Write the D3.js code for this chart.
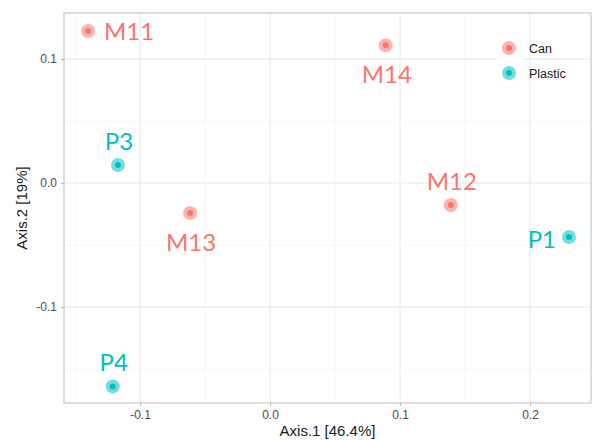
<!DOCTYPE html>
<html lang="en">
  <head>
    <meta charset="utf-8">
    <title>PCoA</title>
    <style>
      body { margin: 0; background: #fff; }
      svg { display: block; }
    </style>
  </head>
  <body>
    <div id="chart"></div>
  </body>
  <script src="https://cdnjs.cloudflare.com/ajax/libs/d3/7.8.5/d3.min.js"></script>
  <script type="text/javascript">

    // sample scores on the first two axes
    const samples = ['M11', 'M14', 'P3', 'M13', 'M12', 'P1', 'P4']
    const groups  = ['Can', 'Can', 'Plastic', 'Can', 'Can', 'Plastic', 'Plastic']
    const axis1   = [-0.140, 0.089, -0.117, -0.0615, 0.139, 0.230, -0.121]
    const axis2   = [0.1226, 0.111, 0.0145, -0.0242, -0.0177, -0.0435, -0.164]
    // where each label sits relative to its point
    const labelSide = ['right', 'below', 'above', 'below', 'above', 'left', 'above']

    const legendGroups = ['Can', 'Plastic']
    const groupColors = ['#F8766D', '#00BFC4']
    const xTicks = [-0.1, 0.0, 0.1, 0.2]
    const yTicks = [-0.1, 0.0, 0.1]

    const width = 592, height = 440
    const margin = { top: 13, right: 1, bottom: 37, left: 64 }
    const iw = width - margin.left - margin.right
    const ih = height - margin.top - margin.bottom

    const x = d3.scaleLinear().domain([-0.1585, 0.2469]).range([0, iw])
    const y = d3.scaleLinear().domain([-0.1774, 0.1371]).range([ih, 0])
    const color = d3.scaleOrdinal().domain(legendGroups).range(groupColors)

    const data = samples.map((s, i) => ({ name: s, group: groups[i], x: axis1[i], y: axis2[i], side: labelSide[i] }))

    const svg = d3.select('#chart').append('svg')
      .attr('width', width)
      .attr('height', height)

    const g = svg.append('g').attr('transform', `translate(${margin.left},${margin.top})`)

    // minor grid
    const minorX = d3.range(-0.15, 0.25, 0.1)
    const minorY = d3.range(-0.15, 0.15, 0.1)
    g.selectAll('.minor-x').data(minorX).enter().append('line')
      .attr('x1', d => x(d)).attr('x2', d => x(d)).attr('y1', 0).attr('y2', ih)
      .attr('stroke', '#f2f2f2').attr('stroke-width', 0.6)
    g.selectAll('.minor-y').data(minorY).enter().append('line')
      .attr('y1', d => y(d)).attr('y2', d => y(d)).attr('x1', 0).attr('x2', iw)
      .attr('stroke', '#f2f2f2').attr('stroke-width', 0.6)

    // major grid
    g.selectAll('.major-x').data(xTicks).enter().append('line')
      .attr('x1', d => x(d)).attr('x2', d => x(d)).attr('y1', 0).attr('y2', ih)
      .attr('stroke', '#e6e6e6').attr('stroke-width', 1)
    g.selectAll('.major-y').data(yTicks).enter().append('line')
      .attr('y1', d => y(d)).attr('y2', d => y(d)).attr('x1', 0).attr('x2', iw)
      .attr('stroke', '#e6e6e6').attr('stroke-width', 1)

    // axes
    const fmt = d => d3.format('.1f')(d).replace('−', '-')
    const xAxis = g.append('g').attr('transform', `translate(0,${ih})`)
      .call(d3.axisBottom(x).tickValues(xTicks).tickFormat(fmt).tickSize(3).tickPadding(4))
    const yAxis = g.append('g')
      .call(d3.axisLeft(y).tickValues(yTicks).tickFormat(fmt).tickSize(3).tickPadding(4))
    for (const ax of [xAxis, yAxis]) {
      ax.select('.domain').remove()
      ax.selectAll('line').attr('stroke', '#b3b3b3')
      ax.selectAll('text')
        .attr('fill', '#4d4d4d')
        .style('font-family', '"Liberation Sans", Arial, sans-serif')
        .style('font-size', '12px')
    }

    // panel border
    g.append('rect')
      .attr('width', iw).attr('height', ih)
      .attr('fill', 'none').attr('stroke', '#c8c8c8').attr('stroke-width', 1.2)

    // points
    const pts = g.selectAll('.pt').data(data).enter().append('g')
      .attr('transform', d => `translate(${x(d.x)},${y(d.y)})`)
    pts.append('circle').attr('r', 7).attr('fill', d => color(d.group)).attr('opacity', 0.55)
    pts.append('circle').attr('r', 3).attr('fill', d => color(d.group))

    // labels
    const off = {
      right: { dx: 16, dy: 9, anchor: 'start' },
      left: { dx: -13, dy: 11, anchor: 'end' },
      above: { dx: 1, dy: -15, anchor: 'middle' },
      below: { dx: 1, dy: 38, anchor: 'middle' }
    }
    g.selectAll('.lab').data(data).enter().append('text')
      .attr('x', d => x(d.x) + off[d.side].dx)
      .attr('y', d => y(d.y) + off[d.side].dy)
      .attr('text-anchor', d => off[d.side].anchor)
      .attr('fill', d => color(d.group))
      .style('font-family', 'Lato, "Open Sans", sans-serif')
      .style('font-size', '24px')
      .text(d => d.name)

    // legend
    const legend = svg.append('g').attr('transform', 'translate(497,35)')
    legend.append('rect').attr('width', 25).attr('height', 51).attr('fill', '#fff')
    const items = legend.selectAll('.item').data(legendGroups).enter().append('g')
      .attr('transform', (d, i) => `translate(12,${13 + i * 25})`)
    items.append('circle').attr('r', 7).attr('fill', d => color(d)).attr('opacity', 0.55)
    items.append('circle').attr('r', 3).attr('fill', d => color(d))
    items.append('text')
      .attr('x', 20).attr('y', 4.5)
      .style('font-family', '"Liberation Sans", Arial, sans-serif')
      .style('font-size', '12.5px')
      .attr('fill', '#1a1a1a')
      .text(d => d)

    // axis titles
    svg.append('text')
      .attr('x', margin.left + iw / 2).attr('y', 436)
      .attr('text-anchor', 'middle')
      .style('font-family', '"Liberation Sans", Arial, sans-serif')
      .style('font-size', '15px')
      .attr('fill', '#1a1a1a')
      .text('Axis.1 [46.4%]')
    svg.append('text')
      .attr('transform', `translate(27,${margin.top + ih / 2}) rotate(-90)`)
      .attr('text-anchor', 'middle')
      .style('font-family', '"Liberation Sans", Arial, sans-serif')
      .style('font-size', '15px')
      .attr('fill', '#1a1a1a')
      .text('Axis.2 [19%]')

  </script>
</html>
